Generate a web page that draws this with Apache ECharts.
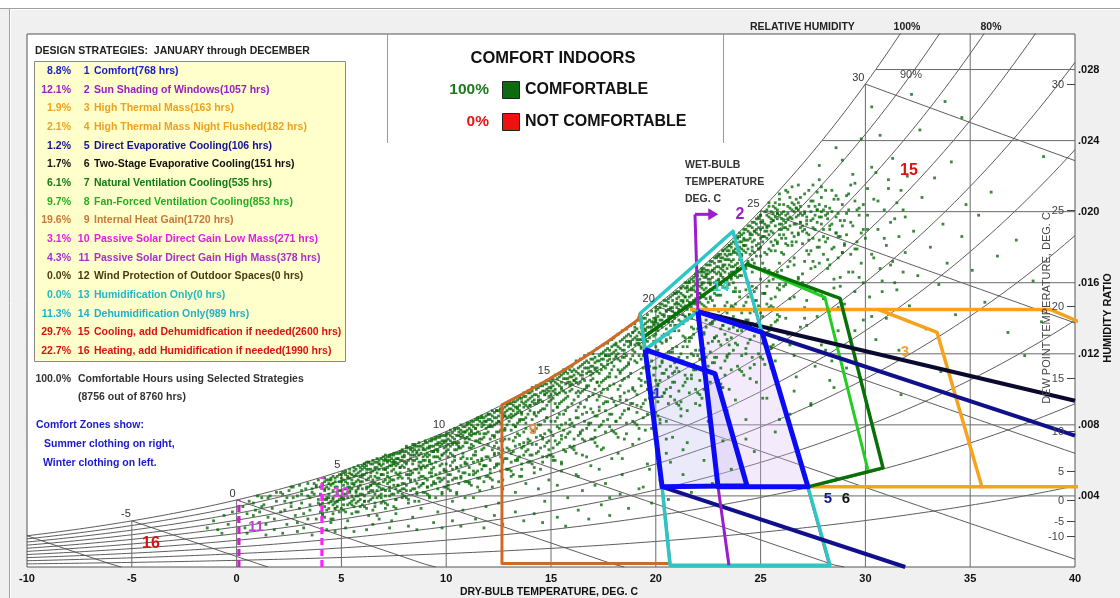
<!DOCTYPE html>
<html>
<head>
<meta charset="utf-8">
<script src="https://cdn.jsdelivr.net/npm/echarts@6/dist/echarts.min.js"></script>
<style>
  html, body { margin: 0; padding: 0; background: #f0f0f0; }
  #chart { width: 1120px; height: 598px; }
</style>
</head>
<body>
<div id="chart"></div>
<script>
// ---------- data ----------
const tempRange = [-10, 40];
const ratioRange = [0, 0.030];
const rhLevels = [10, 20, 30, 40, 50, 60, 70, 80, 90, 100];
const wetBulbTemps = [-10, -5, 0, 5, 10, 15, 20, 25, 30];
const wetBulbLabels = [-5, 0, 5, 10, 15, 20, 25, 30];
const dewPointTemps = [-10, -5, 0, 5, 10, 15, 20, 25, 30];
const gridTemps = [-5, 0, 5, 10, 15, 20, 25, 30, 35];
const gridRatios = [0.004, 0.008, 0.012, 0.016, 0.020, 0.024, 0.028];

const totalHours = 8760;
const comfortableHours = 8756;
const strategyNames = [
  'Comfort', 'Sun Shading of Windows', 'High Thermal Mass', 'High Thermal Mass Night Flushed',
  'Direct Evaporative Cooling', 'Two-Stage Evaporative Cooling', 'Natural Ventilation Cooling',
  'Fan-Forced Ventilation Cooling', 'Internal Heat Gain', 'Passive Solar Direct Gain Low Mass',
  'Passive Solar Direct Gain High Mass', 'Wind Protection of Outdoor Spaces', 'Humidification Only',
  'Dehumidification Only', 'Cooling, add Dehumidfication if needed', 'Heating, add Humidification if needed'
];
const strategyHours = [768, 1057, 163, 182, 106, 151, 535, 853, 1720, 271, 378, 0, 0, 989, 2600, 1990];
const strategyColors = [
  '#1a1acc', '#9922bb', '#f0a020', '#f0a020', '#14148c', '#111111', '#137a13', '#22b022',
  '#c87838', '#e020e0', '#a830c8', '#4a3a10', '#22b8c0', '#22b0c8', '#dd1111', '#dd1111'
];

// design strategy zone outlines: [dry-bulb °C, humidity ratio]
const comfortWinter = [[19.49, 0.01224], [22.82, 0.01089], [24.35, 0.00457], [20.30, 0.00451]];
const comfortSummer = [[22.01, 0.01438], [25.07, 0.01320], [27.26, 0.00451], [22.97, 0.00451]];
const sunShadingEdge = [[23.49, 0.0001], [22.97, 0.00451], [22.01, 0.01438], [21.87, 0.01985]];
const sunShadingArrow = [[21.87, 0.01985], [22.98, 0.01985]];
const thermalMass = [[21.63, 0.0145], [30.60, 0.0145], [33.42, 0.0132], [35.56, 0.00451], [27.26, 0.00451]];
const nightFlushTop = [[30.60, 0.0145], [38.81, 0.0145], [40.6, 0.0136]];
const nightFlushBottom = [[35.56, 0.00451], [40.5, 0.00451]];
const evapDirectTop = [[22.01, 0.01438], [40, 0.00739]];
const evapLower = [[20.30, 0.00451], [31.9, 0.0]];
const evapTwoStageTop = [[22.01, 0.01438], [40, 0.00936]];
const naturalVent = [[19.39, 0.01292], [24.35, 0.01703], [28.79, 0.01512], [30.84, 0.00558], [27.26, 0.00451]];
const fanVent = [[24.35, 0.01703], [28.07, 0.01517], [30.12, 0.00547]];
const heatGainLeft = 12.66, heatGainTopRight = 19.25;
const heatGainRight = [[19.25, 0.01427], [19.49, 0.01224], [20.30, 0.00451], [20.68, 0.0002]];
const solarLowMassTemp = 4.07;
const solarHighMassTemp = 0.11;
const dehumidOnly = [[19.25, 0.01427], [23.68, 0.0189], [25.07, 0.0132], [22.01, 0.01438], [19.49, 0.01224], [19.25, 0.01427]];
const humidOnly = [[20.30, 0.00451], [20.68, 0.0001], [28.31, 0.0001], [27.26, 0.00451]];
const coolingEdge = [[23.64, 0.0189], [25.02, 0.0132], [27.2, 0.00451], [28.24, 0.0001]];

// hourly weather records: [dry-bulb °C, humidity ratio g/kg]
const hourlyPoints = [
[-1.4,2.2],[-1.1,2.6],[-0.9,2.1],[-0.6,2.9],[-0.4,2.4],[-0.2,3.1],[0.1,2.7],[0.3,3.4],[0.4,2.2],[0.6,3.7],[0.8,2.9],[0.9,3.2],[1.1,2.5],[1.2,3.9],[1.3,3.5],[1.5,2.8],[1.6,4.0],[1.7,3.3],[1.8,2.1],[1.9,3.7],[0.5,1.9],[1.4,1.8],[-0.7,1.9],[1.0,4.0],[1.9,4.2],
[2.1,3.1],[2.2,4.1],[2.3,3.7],[2.4,2.4],[2.5,4.3],[2.6,3.4],[2.7,4.5],[2.8,2.9],[2.9,4.0],[3.0,4.6],[3.1,3.6],[3.2,2.2],[3.3,4.4],[3.4,4.7],[3.5,3.9],[3.5,3.2],[3.6,4.2],[3.7,4.7],[3.8,2.7],[3.9,4.9],[4.0,4.1],[4.0,3.5],[4.1,4.6],[4.2,5.0],[4.3,3.8],[4.4,4.4],[4.5,2.5],[4.5,4.9],[4.6,5.1],[4.7,3.3],[4.8,4.5],[4.9,5.2],[4.9,4.0],[2.2,1.9],[2.9,2.0],[3.6,1.8],[4.3,2.1],[4.7,2.0],[2.6,4.5],[3.1,4.3],[3.4,4.0],[3.8,4.5],[4.2,4.3],[4.6,4.7],[4.4,4.9],[3.9,3.6],[2.4,3.9],[3.0,3.3],[4.1,3.0],[4.8,3.7],
[5.0,4.8],[5.1,5.3],[5.1,3.9],[5.2,4.4],[5.3,5.0],[5.3,2.6],[5.4,5.5],[5.4,4.2],[5.5,4.9],[5.5,3.5],[5.6,5.6],[5.6,4.6],[5.7,5.2],[5.7,3.1],[5.8,4.0],[5.8,5.7],[5.9,4.8],[5.9,5.4],[5.2,2.2],[5.6,2.0],
[6.0,5.1],[6.0,4.4],[6.1,5.8],[6.1,3.7],[6.2,5.5],[6.2,4.9],[6.3,2.9],[6.3,5.9],[6.4,4.3],[6.4,5.3],[6.5,6.0],[6.5,4.7],[6.6,5.6],[6.6,3.4],[6.7,5.0],[6.7,6.1],[6.8,4.5],[6.8,5.8],[6.9,5.2],[6.9,3.9],[6.5,2.4],[6.2,2.1],[6.8,2.7],
[7.0,6.2],[7.0,4.8],[7.1,5.5],[7.1,3.3],[7.2,6.0],[7.2,5.1],[7.3,4.3],[7.3,6.3],[7.4,5.7],[7.4,2.6],[7.5,6.4],[7.5,4.9],[7.6,5.3],[7.6,3.8],[7.7,6.1],[7.7,4.6],[7.8,6.5],[7.8,5.6],[7.9,5.0],[7.9,6.6],[7.3,2.2],[7.6,3.0],[7.9,4.1],[7.1,6.0],[7.5,5.9],
[8.0,6.3],[8.0,4.4],[8.1,5.8],[8.1,6.8],[8.2,5.2],[8.2,3.6],[8.3,6.6],[8.3,4.9],[8.4,6.0],[8.4,2.8],[8.5,6.9],[8.5,5.5],[8.6,4.2],[8.6,6.4],[8.7,5.9],[8.7,7.0],[8.8,5.1],[8.8,3.3],[8.9,6.7],[8.9,4.7],[8.2,2.3],[8.6,2.1],[8.9,5.7],[8.4,6.5],
[9.0,7.1],[9.0,5.6],[9.1,6.2],[9.1,4.5],[9.2,6.8],[9.2,3.9],[9.3,5.3],[9.3,7.2],[9.4,6.5],[9.4,4.8],[9.5,7.3],[9.5,5.9],[9.6,3.1],[9.6,6.9],[9.7,5.0],[9.7,7.4],[9.8,6.3],[9.8,4.2],[9.9,7.0],[9.9,5.5],[9.4,2.5],[9.8,2.2],[9.2,6.0],[9.6,6.6],
[10.0,7.5],[10.0,5.8],[10.1,6.6],[10.1,4.6],[10.2,7.7],[10.2,5.2],[10.3,7.0],[10.3,3.7],[10.4,6.2],[10.4,7.8],[10.5,5.6],[10.5,4.1],[10.6,7.4],[10.6,6.8],[10.7,5.0],[10.7,8.0],[10.8,6.4],[10.8,3.2],[10.9,7.6],[10.9,5.9],[10.3,2.6],[10.7,2.3],[10.5,6.9],
[11.0,8.1],[11.0,6.1],[11.1,7.2],[11.1,4.8],[11.2,6.7],[11.2,8.2],[11.3,5.4],[11.3,3.9],[11.4,7.8],[11.4,6.3],[11.5,8.4],[11.5,5.0],[11.6,7.0],[11.6,4.3],[11.7,8.5],[11.7,6.0],[11.8,7.5],[11.8,5.7],[11.9,8.2],[11.9,3.4],[11.4,2.7],[11.8,2.2],[11.2,7.6],
[12.0,8.6],[12.0,6.9],[12.1,5.3],[12.1,7.9],[12.2,8.8],[12.2,4.5],[12.3,6.4],[12.3,7.4],[12.4,8.8],[12.4,5.8],[12.5,8.2],[12.5,3.6],[12.6,7.1],[12.6,8.9],[12.7,6.0],[12.7,4.9],[12.8,8.5],[12.8,7.7],[12.9,9.2],[12.9,5.5],[12.3,2.9],[12.7,2.4],[12.5,6.7],
[13.0,9.3],[13.0,7.2],[13.1,8.4],[13.1,5.1],[13.2,6.5],[13.2,9.3],[13.3,7.9],[13.3,4.2],[13.4,8.9],[13.4,6.0],[13.5,9.6],[13.5,7.4],[13.6,5.5],[13.6,8.6],[13.7,9.8],[13.7,6.8],[13.8,4.7],[13.8,8.1],[13.9,9.9],[13.9,7.0],[13.3,3.1],[13.7,2.6],[13.5,8.3],
[14.0,9.1],[14.0,6.3],[14.1,10.1],[14.1,7.7],[14.2,5.3],[14.2,8.7],[14.3,10.2],[14.3,6.9],[14.4,4.4],[14.4,9.4],[14.5,8.0],[14.5,10.3],[14.6,5.9],[14.6,7.3],[14.7,9.7],[14.7,3.7],[14.8,10.5],[14.8,8.4],[14.9,6.6],[14.9,9.9],[14.2,3.0],[14.6,2.5],[14.9,4.9],
[15.0,10.6],[15.0,8.2],[15.1,6.0],[15.1,9.5],[15.2,10.8],[15.2,7.1],[15.3,4.6],[15.3,9.0],[15.4,10.9],[15.4,7.8],[15.5,5.4],[15.5,10.1],[15.6,8.6],[15.6,11.1],[15.7,6.5],[15.7,9.8],[15.8,3.9],[15.8,11.2],[15.9,8.0],[15.9,10.4],[15.3,2.8],[15.7,2.3],[15.5,7.4],
[16.0,11.3],[16.0,9.2],[16.1,6.8],[16.1,10.5],[16.2,8.4],[16.2,11.6],[16.3,5.1],[16.3,9.9],[16.4,11.7],[16.4,7.6],[16.5,10.8],[16.5,4.3],[16.6,9.0],[16.6,11.9],[16.7,6.2],[16.7,10.2],[16.8,12.0],[16.8,8.1],[16.9,5.7],[16.9,11.0],[16.3,3.2],[16.8,2.7],[16.5,7.2],
[17.0,12.0],[17.0,9.7],[17.1,7.3],[17.1,11.2],[17.2,10.4],[17.2,12.3],[17.3,5.5],[17.3,8.8],[17.4,11.7],[17.4,6.6],[17.5,12.5],[17.5,10.0],[17.6,4.7],[17.6,9.3],[17.7,12.6],[17.7,11.4],[17.8,7.9],[17.8,10.7],[17.9,12.8],[17.9,6.1],[17.4,3.5],[17.8,2.9],[17.2,8.5],[17.6,11.9],
[18.0,12.9],[18.0,10.3],[18.1,8.2],[18.1,11.9],[18.2,13.1],[18.2,6.4],[18.3,11.0],[18.3,9.4],[18.4,13.3],[18.4,5.2],[18.5,12.2],[18.5,10.6],[18.6,7.5],[18.6,13.4],[18.7,11.5],[18.7,8.9],[18.8,13.6],[18.8,12.6],[18.9,6.9],[18.9,10.0],[18.3,4.1],[18.7,3.3],[18.5,11.8],[18.1,12.5],[18.9,13.2],
[19.0,13.7],[19.0,11.6],[19.1,9.1],[19.1,12.8],[19.2,13.9],[19.2,7.2],[19.3,10.5],[19.3,12.3],[19.4,14.0],[19.4,8.4],[19.5,11.9],[19.5,13.4],[19.6,5.8],[19.6,14.2],[19.7,10.0],[19.7,12.9],[19.8,14.4],[19.8,7.8],[19.9,11.2],[19.9,13.7],[19.4,4.5],[19.8,3.6],[19.2,12.6],[19.6,13.1],[19.9,9.5],
[20.0,14.6],[20.0,12.4],[20.1,13.5],[20.1,10.2],[20.2,14.8],[20.2,8.1],[20.3,13.0],[20.3,11.5],[20.4,15.0],[20.4,14.1],[20.5,12.7],[20.5,6.4],[20.6,15.1],[20.6,13.8],[20.7,9.6],[20.7,14.5],[20.8,15.3],[20.8,12.1],[20.9,13.3],[20.9,15.4],[20.2,4.9],[20.6,3.8],[20.8,7.3],[20.4,10.9],[20.0,13.9],[20.5,14.4],[20.9,11.0],
[21.0,15.5],[21.0,13.6],[21.1,14.5],[21.1,11.8],[21.2,15.7],[21.2,9.3],[21.3,14.9],[21.3,13.0],[21.4,16.0],[21.4,15.2],[21.5,12.4],[21.5,7.0],[21.6,16.1],[21.6,14.2],[21.7,15.6],[21.7,10.6],[21.8,16.3],[21.8,13.4],[21.9,15.0],[21.9,16.5],[21.3,5.2],[21.7,4.2],[21.2,8.5],[21.6,12.9],[21.0,14.8],[21.4,13.9],[21.8,11.4],[21.5,15.8],
[22.0,16.6],[22.0,14.0],[22.1,15.4],[22.1,12.2],[22.2,16.8],[22.2,15.9],[22.3,13.1],[22.3,10.0],[22.4,17.0],[22.4,14.6],[22.5,16.2],[22.5,8.2],[22.6,17.2],[22.6,15.1],[22.7,13.8],[22.7,16.7],[22.8,17.4],[22.8,11.5],[22.9,15.7],[22.9,17.5],[22.3,6.0],[22.7,4.7],[22.1,9.1],[22.5,14.3],[22.0,15.8],[22.4,16.4],[22.8,12.9],[22.6,16.0],[22.2,16.6],
[23.0,17.6],[23.0,15.3],[23.1,16.5],[23.1,13.4],[23.2,17.8],[23.2,16.9],[23.3,14.7],[23.3,10.8],[23.4,18.0],[23.4,15.8],[23.5,17.3],[23.5,12.5],[23.6,18.2],[23.6,16.3],[23.7,14.1],[23.7,17.7],[23.8,18.5],[23.8,9.4],[23.9,16.8],[23.9,18.6],[23.2,7.1],[23.6,5.5],[23.4,11.9],[23.8,15.5],[23.0,16.1],[23.5,18.1],[23.9,13.3],[23.1,17.4],[23.7,16.9],
[24.0,18.8],[24.0,16.4],[24.1,17.6],[24.1,14.3],[24.2,19.0],[24.2,18.1],[24.3,15.6],[24.3,12.0],[24.4,19.2],[24.4,17.1],[24.5,18.5],[24.5,13.6],[24.6,19.4],[24.6,16.6],[24.7,15.0],[24.7,18.9],[24.8,19.6],[24.8,10.4],[24.9,17.9],[24.9,19.7],[24.3,8.3],[24.7,6.5],[24.5,11.2],[24.0,15.2],[24.4,16.0],[24.8,14.4],[24.2,18.4],[24.6,17.8],
[25.0,19.8],[25.0,17.5],[25.1,18.6],[25.1,15.4],[25.2,20.0],[25.2,16.8],[25.3,19.1],[25.3,13.2],[25.4,20.3],[25.4,17.9],[25.5,18.9],[25.5,14.7],[25.6,19.5],[25.6,16.2],[25.7,20.5],[25.7,11.6],[25.8,18.3],[25.8,19.9],[25.9,17.1],[25.9,15.9],[25.3,9.5],[25.7,7.6],[25.5,12.4],[25.1,19.4],[25.9,21.0],[25.4,16.5],[25.8,13.9],
[26.0,19.3],[26.0,17.7],[26.1,20.4],[26.1,15.8],[26.2,18.5],[26.2,14.0],[26.3,19.9],[26.3,16.9],[26.4,20.8],[26.4,12.5],[26.5,18.1],[26.5,19.6],[26.6,15.2],[26.6,17.4],[26.7,20.2],[26.7,10.7],[26.8,18.8],[26.8,16.3],[26.9,19.4],[26.9,13.5],[26.4,8.6],[26.8,21.5],[26.2,21.2],[26.6,11.9],
[27.0,18.9],[27.0,16.5],[27.1,20.0],[27.1,14.6],[27.2,17.8],[27.2,19.5],[27.3,12.9],[27.3,18.4],[27.4,20.6],[27.4,15.7],[27.5,17.2],[27.5,19.1],[27.6,11.3],[27.6,16.9],[27.7,20.1],[27.7,14.1],[27.8,18.0],[27.8,21.8],[27.9,15.3],[27.9,19.7],[27.4,9.2],[27.8,22.6],[27.2,13.6],
[28.0,18.6],[28.0,15.1],[28.1,20.3],[28.1,12.2],[28.2,17.3],[28.3,19.2],[28.3,14.4],[28.4,21.2],[28.5,16.2],[28.5,10.1],[28.6,18.8],[28.7,13.3],[28.7,20.7],[28.8,15.8],[28.9,17.7],[28.9,22.9],[28.4,11.6],[28.6,23.6],[28.2,19.9],
[29.0,18.2],[29.0,14.8],[29.1,20.9],[29.2,16.6],[29.3,12.7],[29.3,19.4],[29.4,22.1],[29.5,15.5],[29.6,17.9],[29.7,11.4],[29.7,20.2],[29.8,24.1],[29.9,16.0],[29.9,13.9],[29.5,21.6],
[30.1,19.0],[30.2,15.2],[30.3,22.5],[30.4,17.4],[30.5,12.8],[30.6,20.6],[30.7,24.3],[30.8,16.1],[30.9,18.5],[31.0,14.0],[31.1,21.3],[31.2,17.0],[31.3,23.0],[31.4,19.6],[31.5,15.6],[31.6,12.2],[31.8,20.1],[31.9,17.7],[32.0,22.0],[32.1,14.7],[32.3,18.9],[32.5,16.4],[32.6,24.6],[32.7,20.8],[32.9,13.4],[33.1,18.0],[33.3,21.9],[33.5,15.9],[33.7,19.3],[33.9,17.1],[34.1,22.8],[34.3,14.2],[34.6,18.6],[34.8,20.4],[35.1,16.7],[35.4,19.8],[35.7,14.9],[36.0,21.1],[36.3,17.5],[36.8,13.2],[37.2,18.4],[37.6,11.9],[38.0,16.1],[38.4,13.8],[31.7,9.7],[33.6,11.0],[30.3,25.9],[32.2,26.6],[34.6,25.3],[38.5,23.1],[33.8,26.2]
];

// further hourly records, flat pairs in tenths: dry-bulb °C×10, humidity ratio g/kg×10
const hourlyPointsTenths = [
5,30, 12,34, 18,27, 23,32, 27,39, 32,30, 36,44, 39,38, 8,36, 15,39, 21,42, 26,36, 31,41, 35,35, 38,46, 14,24, 29,25, 34,27, 11,31, 37,41,
41,47, 43,49, 45,46, 47,50, 49,48, 42,44, 44,41, 46,43, 48,51, 40,45, 43,45, 45,50, 47,45, 49,43, 41,39, 46,38, 48,42, 44,47, 42,48, 47,48,
50,50, 51,46, 52,52, 53,47, 54,53, 55,44, 56,51, 57,55, 58,49, 59,56, 50,43, 52,48, 54,50, 56,47, 58,53, 51,41, 53,45, 55,52, 57,48, 59,51, 50,52, 52,54, 54,45, 56,54, 58,45, 51,49, 53,51, 55,47, 57,42, 59,46,
60,55, 61,52, 62,57, 63,50, 64,58, 65,54, 66,59, 67,56, 68,60, 69,57, 60,48, 61,56, 62,45, 63,55, 64,51, 65,58, 66,47, 67,53, 68,55, 69,61, 60,52, 62,53, 64,46, 66,55, 68,50, 61,58, 63,59, 65,49, 67,59, 69,52, 60,57, 62,59, 64,55, 66,51, 68,58,
70,58, 71,61, 72,56, 73,62, 74,59, 75,63, 76,57, 77,64, 78,60, 79,62, 70,52, 71,55, 72,62, 73,50, 74,63, 75,55, 76,61, 77,58, 78,64, 79,57, 70,60, 71,49, 72,59, 73,57, 74,54, 75,60, 76,64, 77,52, 78,56, 79,65, 70,55, 72,53, 74,61, 76,59, 78,53, 71,63, 73,60, 75,58, 77,61, 79,60,
80,62, 81,65, 82,60, 83,67, 84,63, 85,66, 86,61, 87,68, 88,64, 89,69, 80,56, 81,59, 82,64, 83,54, 84,67, 85,60, 86,65, 87,57, 88,68, 89,62, 80,65, 81,52, 82,67, 83,61, 84,58, 85,68, 86,55, 87,63, 88,59, 89,66, 80,59, 82,55, 84,69, 86,68, 88,56, 81,67, 83,63, 85,63, 87,66, 89,60,
90,66, 91,70, 92,63, 93,71, 94,68, 95,72, 96,65, 97,73, 98,69, 99,74, 90,60, 91,64, 92,71, 93,58, 94,72, 95,66, 96,70, 97,61, 98,74, 99,67, 90,70, 91,57, 92,67, 93,65, 94,62, 95,69, 96,73, 97,68, 98,63, 99,71, 90,63, 92,59, 94,65, 96,62, 98,71, 91,67, 93,68, 95,62, 97,70, 99,64,
100,71, 101,75, 102,68, 103,76, 104,72, 105,78, 106,70, 107,77, 108,74, 109,79, 100,65, 101,69, 102,74, 103,63, 104,77, 105,70, 106,76, 107,67, 108,79, 109,72, 100,74, 101,62, 102,71, 103,69, 104,66, 105,74, 106,78, 107,73, 108,68, 109,76, 100,68, 102,64, 104,70, 106,67, 108,76, 101,72, 103,73, 105,66, 107,75, 109,70,
110,77, 111,81, 112,74, 113,82, 114,78, 115,83, 116,75, 117,84, 118,80, 119,85, 110,70, 111,75, 112,80, 113,68, 114,83, 115,76, 116,82, 117,72, 118,84, 119,78, 110,80, 111,67, 112,77, 113,75, 114,71, 115,80, 116,84, 117,79, 118,73, 119,82, 110,73, 112,69, 114,75, 116,72, 118,82, 111,78, 113,79, 115,71, 117,81, 119,75,
120,83, 121,86, 122,79, 123,87, 124,84, 125,88, 126,81, 127,89, 128,85, 129,91, 120,76, 121,80, 122,85, 123,73, 124,88, 125,82, 126,87, 127,77, 128,90, 129,84, 120,86, 121,72, 122,82, 123,80, 124,76, 125,85, 126,89, 127,84, 128,78, 129,88, 120,79, 122,74, 124,81, 126,77, 128,87, 121,83, 123,84, 125,76, 127,86, 129,80,
130,89, 131,92, 132,85, 133,93, 134,90, 135,95, 136,87, 137,96, 138,91, 139,98, 130,82, 131,86, 132,91, 133,79, 134,94, 135,88, 136,93, 137,83, 138,96, 139,90, 130,92, 131,77, 132,88, 133,86, 134,81, 135,91, 136,95, 137,90, 138,84, 139,94, 130,85, 132,80, 134,87, 136,83, 138,93, 131,89, 133,90, 135,82, 137,92, 139,86,
140,95, 141,99, 142,92, 143,100, 144,96, 145,102, 146,93, 147,103, 148,98, 149,105, 140,88, 141,93, 142,97, 143,85, 144,101, 145,94, 146,99, 147,89, 148,103, 149,96, 140,98, 141,83, 142,94, 143,92, 144,87, 145,98, 146,102, 147,97, 148,91, 149,101, 140,91, 142,86, 144,93, 146,89, 148,100, 141,96, 143,97, 145,88, 147,99, 149,93,
150,101, 151,105, 152,98, 153,106, 154,102, 155,108, 156,99, 157,110, 158,104, 159,111, 150,94, 151,99, 152,104, 153,90, 154,107, 155,100, 156,106, 157,95, 158,109, 159,102, 150,104, 151,88, 152,100, 153,97, 154,92, 155,104, 156,109, 157,103, 158,96, 159,107, 150,97, 152,92, 154,98, 156,94, 158,106, 151,102, 153,103, 155,93, 157,106, 159,99,
160,107, 161,111, 162,104, 163,112, 164,108, 165,114, 166,105, 167,116, 168,110, 169,117, 160,100, 161,105, 162,110, 163,96, 164,113, 165,106, 166,112, 167,101, 168,115, 169,108, 160,110, 161,94, 162,106, 163,103, 164,98, 165,110, 166,115, 167,109, 168,102, 169,113, 160,103, 162,98, 164,104, 166,100, 168,112, 161,108, 163,109, 165,99, 167,112, 169,105,
170,113, 171,118, 172,110, 173,119, 174,114, 175,121, 176,112, 177,123, 178,117, 179,124, 170,106, 171,111, 172,116, 173,102, 174,120, 175,113, 176,119, 177,107, 178,122, 179,115, 170,117, 171,100, 172,112, 173,109, 174,104, 175,117, 176,122, 177,116, 178,109, 179,120, 170,109, 172,104, 174,111, 176,106, 178,119, 171,115, 173,116, 175,105, 177,119, 179,111,
180,121, 181,126, 182,117, 183,127, 184,122, 185,129, 186,119, 187,131, 188,125, 189,132, 180,113, 181,118, 182,124, 183,109, 184,128, 185,120, 186,127, 187,114, 188,130, 189,122, 180,125, 181,107, 182,120, 183,116, 184,111, 185,125, 186,130, 187,124, 188,117, 189,128, 180,117, 182,111, 184,118, 186,113, 188,127, 181,122, 183,123, 185,112, 187,127, 189,119,
190,129, 191,134, 192,125, 193,135, 194,130, 195,137, 196,127, 197,139, 198,133, 199,140, 190,121, 191,126, 192,132, 193,117, 194,136, 195,128, 196,135, 197,122, 198,138, 199,130, 190,133, 191,115, 192,128, 193,124, 194,119, 195,133, 196,138, 197,132, 198,125, 199,136, 190,125, 192,119, 194,126, 196,121, 198,135, 191,130, 193,131, 195,120, 197,135, 199,127, 190,135, 193,128, 196,131, 199,138, 195,140,
200,140, 201,145, 202,136, 203,148, 204,142, 205,150, 206,138, 207,152, 208,146, 209,154, 200,131, 201,137, 202,143, 203,126, 204,147, 205,134, 206,145, 207,129, 208,150, 209,140, 200,144, 201,122, 202,139, 203,135, 204,118, 205,144, 206,149, 207,141, 208,133, 209,148, 200,134, 202,127, 204,137, 206,131, 208,144, 201,141, 203,142, 205,128, 207,146, 209,136, 200,112, 202,105, 204,98, 206,121, 208,109, 201,133, 203,139, 205,147, 207,136, 209,143, 200,138, 202,146, 204,131, 206,141, 208,138,
210,151, 211,155, 212,147, 213,158, 214,152, 215,160, 216,149, 217,162, 218,156, 219,164, 210,142, 211,148, 212,154, 213,137, 214,157, 215,145, 216,156, 217,140, 218,161, 219,151, 210,154, 211,133, 212,150, 213,146, 214,129, 215,155, 216,160, 217,153, 218,144, 219,159, 210,146, 212,138, 214,147, 216,142, 218,158, 211,152, 213,153, 215,139, 217,157, 219,148, 210,124, 212,116, 214,108, 216,127, 218,119, 211,144, 213,150, 215,157, 217,146, 219,155, 210,149, 212,157, 214,141, 216,152, 218,150, 211,139, 213,142, 215,150, 217,135, 219,143,
220,161, 221,166, 222,157, 223,168, 224,163, 225,170, 226,159, 227,172, 228,166, 229,174, 220,152, 221,158, 222,164, 223,147, 224,167, 225,155, 226,166, 227,150, 228,171, 229,161, 220,164, 221,143, 222,160, 223,156, 224,139, 225,165, 226,170, 227,163, 228,154, 229,169, 220,156, 222,148, 224,157, 226,152, 228,168, 221,162, 223,163, 225,149, 227,167, 229,158, 220,134, 222,126, 224,118, 226,137, 228,129, 221,154, 223,160, 225,167, 227,156, 229,165, 220,159, 222,167, 224,151, 226,162, 228,160, 221,149, 223,152, 225,160, 227,145, 229,153, 222,153, 224,165, 226,156, 228,147, 223,166,
230,172, 231,176, 232,167, 233,179, 234,173, 235,181, 236,169, 237,183, 238,177, 239,185, 230,162, 231,168, 232,174, 233,157, 234,178, 235,165, 236,176, 237,160, 238,182, 239,171, 230,175, 231,153, 232,170, 233,166, 234,149, 235,176, 236,180, 237,173, 238,164, 239,180, 230,166, 232,158, 234,168, 236,162, 238,179, 231,172, 233,173, 235,159, 237,178, 239,168, 230,144, 232,136, 234,128, 236,147, 238,139, 231,164, 233,170, 235,178, 237,166, 239,176, 230,169, 232,178, 234,161, 236,172, 238,170, 231,159, 233,162, 235,170, 237,155, 239,163, 232,163, 234,175, 236,166, 238,157, 233,176,
240,183, 241,187, 242,178, 243,190, 244,184, 245,192, 246,180, 247,194, 248,188, 249,196, 240,173, 241,179, 242,185, 243,168, 244,189, 245,176, 246,187, 247,171, 248,193, 249,182, 240,186, 241,164, 242,181, 243,177, 244,160, 245,187, 246,191, 247,184, 248,175, 249,191, 240,177, 242,169, 244,179, 246,173, 248,190, 241,183, 243,184, 245,170, 247,189, 249,179, 240,155, 242,147, 244,139, 246,158, 248,150, 241,175, 243,181, 245,188, 247,177, 249,187, 240,180, 242,188, 244,172, 246,183, 248,181,
250,190, 251,195, 252,186, 253,198, 254,192, 255,200, 256,188, 257,202, 258,196, 259,204, 250,180, 251,186, 252,193, 253,176, 254,197, 255,183, 256,195, 257,178, 258,201, 259,190, 250,194, 251,171, 252,189, 253,185, 254,167, 255,196, 256,199, 257,192, 258,182, 259,198, 250,185, 252,177, 254,187, 256,181, 258,199, 251,191, 253,192, 255,178, 257,197, 259,187, 250,162, 252,154, 254,146, 256,165, 258,157, 251,183, 253,189, 255,194, 257,184, 259,193, 250,198, 253,201, 256,203, 259,207, 254,205,
260,196, 261,200, 262,191, 263,203, 264,197, 265,205, 266,193, 267,207, 268,201, 269,208, 260,185, 261,191, 262,198, 263,181, 264,202, 265,188, 266,200, 267,183, 268,205, 269,194, 260,199, 261,176, 262,194, 263,190, 264,172, 265,201, 266,204, 267,197, 268,187, 269,203, 260,190, 262,182, 264,192, 266,186, 268,198, 261,195, 263,196, 265,183, 267,202, 269,191, 260,167, 262,159, 264,151, 266,170, 268,162, 261,187, 263,211, 265,214, 267,193, 269,199,
270,192, 271,199, 272,188, 273,203, 274,195, 275,206, 276,190, 277,201, 278,197, 279,208, 270,182, 271,190, 272,197, 273,176, 274,200, 275,185, 276,198, 277,180, 278,204, 279,193, 270,198, 271,172, 272,193, 273,187, 274,168, 275,196, 276,203, 277,194, 278,184, 279,200, 270,160, 272,150, 274,178, 276,155, 278,171, 271,210, 273,212, 275,215, 277,211, 279,214,
280,190, 281,198, 282,185, 283,202, 284,193, 285,207, 286,188, 287,199, 288,195, 289,204, 280,176, 281,183, 282,196, 283,170, 284,200, 285,180, 286,197, 287,174, 288,186, 289,192, 280,201, 282,168, 284,179, 286,209, 288,163, 281,212, 283,190, 285,157, 287,186, 289,177,
290,195, 291,187, 292,201, 293,176, 294,192, 295,206, 296,183, 297,198, 298,171, 299,190, 290,181, 292,210, 294,166, 296,201, 298,188, 291,199, 293,215, 295,179, 297,163, 299,204,
300,185, 301,198, 303,176, 304,207, 306,190, 307,168, 309,201, 310,181, 312,194, 313,172, 315,205, 316,186, 318,166, 319,197, 301,213, 305,222, 311,218, 314,160, 317,212, 308,155,
162,52, 171,46, 184,61, 197,55, 205,72, 213,66, 226,79, 234,88, 243,72, 251,95, 259,83, 266,99, 274,91, 283,105, 291,112, 178,39, 192,44, 207,59, 219,92, 231,101, 247,114, 255,123, 263,131, 271,140, 279,125, 287,146, 295,133, 303,141, 155,58, 148,62, 136,51, 127,44, 118,48, 109,39, 98,41, 87,37, 76,33, 67,29, 58,31, 46,27,
40,31, 41,36, 42,28, 43,39, 44,33, 45,37, 46,30, 47,40, 48,34, 49,38, 40,35, 41,29, 42,38, 43,32, 44,36, 45,27, 46,39, 47,33, 48,41, 49,31, 44,39, 46,35, 48,37, 42,34, 47,36,
50,33, 51,38, 52,31, 53,42, 54,36, 55,40, 56,34, 57,43, 58,37, 59,41, 50,39, 51,32, 52,41, 53,35, 54,43, 55,30, 56,38, 57,36, 58,44, 59,34, 53,39, 55,37, 57,40, 51,35, 59,38,
60,35, 61,40, 62,33, 63,45, 64,38, 65,43, 66,36, 67,46, 68,40, 69,44, 60,41, 61,34, 62,44, 63,37, 64,46, 65,32, 66,41, 67,39, 68,47, 69,36, 63,42, 65,39, 67,43, 61,37, 69,41,
70,37, 71,43, 72,35, 73,48, 74,41, 75,46, 76,38, 77,50, 78,43, 79,47, 70,44, 71,36, 72,47, 73,40, 74,49, 75,34, 76,44, 77,42, 78,51, 79,39, 73,45, 75,41, 77,46, 71,40, 79,44,
80,40, 81,46, 82,38, 83,52, 84,44, 85,49, 86,41, 87,53, 88,46, 89,51, 80,47, 81,39, 82,50, 83,43, 84,53, 85,37, 86,47, 87,45, 88,55, 89,42, 83,48, 85,44, 87,50, 81,43, 89,47,
90,42, 91,49, 92,40, 93,55, 94,47, 95,52, 96,44, 97,57, 98,49, 99,54, 90,50, 91,41, 92,53, 93,46, 94,56, 95,39, 96,50, 97,48, 98,58, 99,45, 93,51, 95,47, 97,53, 91,45, 99,50,
100,45, 101,52, 102,43, 103,59, 104,50, 105,56, 106,47, 107,61, 108,53, 109,58, 100,54, 101,44, 102,57, 103,49, 104,60, 105,42, 106,54, 107,51, 108,62, 109,48, 103,55, 105,50, 107,57, 101,48, 109,53,
110,48, 111,56, 112,46, 113,63, 114,53, 115,60, 116,50, 117,66, 118,57, 119,62, 110,58, 111,47, 112,61, 113,52, 114,65, 115,45, 116,58, 117,55, 118,67, 119,51, 113,59, 115,54, 117,61, 111,52, 119,57,
120,51, 121,60, 122,49, 123,68, 124,57, 125,64, 126,54, 127,71, 128,61, 129,67, 120,62, 121,50, 122,66, 123,56, 124,70, 125,48, 126,62, 127,59, 128,72, 129,55, 123,63, 125,58, 127,66, 121,55, 129,61,
130,55, 131,64, 132,52, 133,73, 134,61, 135,69, 136,58, 137,76, 138,65, 139,72, 130,66, 131,54, 132,71, 133,60, 134,75, 135,51, 136,67, 137,63, 138,78, 139,59, 133,68, 135,62, 137,70, 131,59, 139,66,
140,59, 141,69, 142,56, 143,78, 144,65, 145,74, 146,62, 147,82, 148,70, 149,77, 140,71, 141,58, 142,76, 143,64, 144,80, 145,55, 146,72, 147,68, 148,84, 149,63, 143,73, 145,67, 147,75, 141,63, 149,71,
150,63, 151,74, 152,60, 153,84, 154,70, 155,80, 156,66, 157,88, 158,75, 159,83, 150,76, 151,62, 152,82, 153,69, 154,86, 155,59, 156,77, 157,73, 158,90, 159,68, 153,79, 155,72, 157,81, 151,67, 159,76,
160,67, 161,79, 162,64, 163,90, 164,75, 165,86, 166,71, 167,94, 168,80, 169,89, 160,81, 161,66, 162,88, 163,74, 164,92, 165,63, 166,82, 167,78, 168,96, 169,72, 163,84, 165,77, 167,87, 161,72, 169,81,
170,72, 171,85, 172,68, 173,96, 174,80, 175,92, 176,76, 177,100, 178,86, 179,95, 170,87, 171,70, 172,94, 173,79, 174,98, 175,67, 176,88, 177,83, 178,102, 179,77, 173,90, 175,82, 177,93, 171,77, 179,86,
180,76, 181,91, 182,73, 183,102, 184,86, 185,98, 186,81, 187,107, 188,92, 189,101, 180,93, 181,75, 182,100, 183,84, 184,105, 185,72, 186,94, 187,89, 188,109, 189,82, 183,96, 185,88, 187,99, 181,82, 189,92,
190,81, 191,97, 192,78, 193,109, 194,92, 195,104, 196,86, 197,113, 198,98, 199,108, 190,99, 191,80, 192,106, 193,90, 194,112, 195,77, 196,100, 197,95, 198,116, 199,88, 193,102, 195,94, 197,106, 191,87, 199,98,
200,87, 201,103, 202,83, 203,116, 204,98, 205,111, 206,92, 207,121, 208,104, 209,115, 200,105, 201,85, 202,113, 203,96, 204,119, 205,82, 206,107, 207,101, 208,123, 209,94, 203,109, 205,100, 207,113, 201,93, 209,104,
210,92, 211,110, 212,89, 213,124, 214,104, 215,118, 216,98, 217,129, 218,111, 219,122, 210,112, 211,91, 212,120, 213,102, 214,127, 215,88, 216,114, 217,108, 218,131, 219,100, 213,116, 215,106, 217,120, 211,99, 219,111,
220,98, 221,117, 222,95, 223,132, 224,111, 225,126, 226,104, 227,137, 228,118, 229,130, 220,119, 221,97, 222,128, 223,109, 224,135, 225,94, 226,121, 227,115, 228,139, 229,106, 223,123, 225,113, 227,127, 221,105, 229,118,
230,105, 231,125, 232,101, 233,140, 234,118, 235,134, 236,111, 237,146, 238,126, 239,138, 230,127, 231,103, 232,136, 233,116, 234,143, 235,100, 236,129, 237,122, 238,148, 239,113, 233,131, 235,120, 237,135, 231,112, 239,125,
240,111, 241,133, 242,108, 243,149, 244,126, 245,143, 246,118, 247,155, 248,134, 249,147, 240,135, 241,110, 242,145, 243,123, 244,152, 245,106, 246,137, 247,130, 248,157, 249,120, 243,139, 245,128, 247,144, 241,119, 249,133,
250,118, 251,141, 252,114, 253,158, 254,133, 255,151, 256,125, 257,164, 258,142, 259,156, 250,143, 251,117, 252,154, 253,131, 254,161, 255,112, 256,146, 257,138, 258,166, 259,128, 253,148, 255,136, 257,152, 251,126, 259,141
];

// ---------- psychrometric relations (sea-level pressure) ----------
const P_ATM = 101.325;
function satPressure(t) { return 0.61078 * Math.exp(17.27 * t / (t + 237.3)); }
function ratioAt(t, rh) { const pw = satPressure(t) * rh / 100; return 0.622 * pw / (P_ATM - pw); }
function dewPointOf(w) { const pw = w * P_ATM / (0.622 + w); const a = Math.log(pw / 0.61078); return 237.3 * a / (17.27 - a); }
function wetBulbRatio(t, twb) {
  const ws = ratioAt(twb, 100);
  return ((2501 - 2.326 * twb) * ws - 1.006 * (t - twb)) / (2501 + 1.86 * t - 4.186 * twb);
}

// ---------- styles ----------
const FONT = '"Liberation Sans", Arial, Helvetica, sans-serif';
const GRID_LINE = '#6a6a6a';
const PSY_LINE = '#4a4a4a';

function pathSeries(pts, color, width, z, dash) {
  return {
    type: 'line', data: pts, showSymbol: false, symbol: 'none', silent: true, z: z,
    animation: false, clip: true,
    lineStyle: { color: color, width: width, type: dash || 'solid', join: 'round', cap: 'butt' }
  };
}
function fillSeries(pts, fill, z) {
  return {
    type: 'custom', coordinateSystem: 'cartesian2d', silent: true, z: z, clip: true,
    data: [pts[0]],
    renderItem: function (params, api) {
      return { type: 'polygon', shape: { points: pts.map(p => api.coord(p)) }, style: { fill: fill } };
    }
  };
}

const series = [];

// psychrometric grid
rhLevels.forEach(rh => {
  const pts = [];
  for (let t = tempRange[0]; t <= tempRange[1] + 1e-9; t += 0.25) pts.push([t, ratioAt(t, rh)]);
  series.push(pathSeries(pts, PSY_LINE, 0.9, 1));
});
wetBulbTemps.forEach(twb => {
  const pts = [];
  for (let t = twb; t <= tempRange[1] + 1e-9; t += 0.5) {
    const w = wetBulbRatio(t, twb);
    if (w < 0) { pts.push([t, 0]); break; }
    pts.push([t, w]);
  }
  series.push(pathSeries(pts, PSY_LINE, 0.9, 1));
});
gridTemps.forEach(t => {
  series.push(pathSeries([[t, 0], [t, Math.min(ratioAt(t, 100), 0.031)]], GRID_LINE, 1, 1));
});
gridRatios.forEach(w => {
  series.push(pathSeries([[dewPointOf(w), w], [tempRange[1], w]], GRID_LINE, 1, 1));
});

// comfort zone fills
series.push(fillSeries(comfortWinter, 'rgba(185,185,240,0.30)', 2));
series.push(fillSeries(comfortSummer, 'rgba(215,190,245,0.30)', 2));

// hourly climate points
const climatePoints = hourlyPoints.map(p => [p[0], p[1] / 1000]);
for (let i = 0; i + 1 < hourlyPointsTenths.length; i += 2) {
  climatePoints.push([hourlyPointsTenths[i] / 10, hourlyPointsTenths[i + 1] / 10000]);
}
series.push({
  type: 'scatter', data: climatePoints, symbol: 'rect', symbolSize: 2.8, large: false,
  silent: true, z: 3, animation: false, itemStyle: { color: '#0b6a0b' }
});

// strategy zones
const heatGainPath = [[20.68, 0.0002], [heatGainLeft, 0.0002]];
for (let t = heatGainLeft; t < heatGainTopRight; t += 0.25) heatGainPath.push([t, ratioAt(t, 100)]);
heatGainPath.push(...heatGainRight);
series.push(pathSeries(heatGainPath, '#cc6a28', 3, 4));
series.push(pathSeries([[solarHighMassTemp, 0], [solarHighMassTemp, ratioAt(solarHighMassTemp, 100)]], '#cc22cc', 3.2, 4, [7, 4]));
series.push(pathSeries([[solarLowMassTemp, 0], [solarLowMassTemp, ratioAt(solarLowMassTemp, 100)]], '#ff22ff', 3.2, 4, [7, 4]));
series.push(pathSeries(thermalMass, '#f7a21c', 3.5, 4));
series.push(pathSeries(nightFlushTop, '#f7a21c', 3.5, 4));
series.push(pathSeries(nightFlushBottom, '#f7a21c', 3.5, 4));
series.push(pathSeries(coolingEdge, '#dd3333', 1, 4));
series.push(pathSeries(humidOnly, '#2cc6c6', 3.5, 5));
series.push(pathSeries(fanVent, '#22cc22', 3, 5));
series.push(pathSeries(naturalVent, '#077007', 3.5, 5));
series.push(pathSeries(evapTwoStageTop, '#0a0a30', 4, 5));
series.push(pathSeries(evapDirectTop, '#10108c', 4, 5));
series.push(pathSeries(evapLower, '#10108c', 4, 5));
series.push(pathSeries(sunShadingEdge, '#9a1fcc', 3, 5));
series.push(pathSeries(dehumidOnly, '#2cc6c6', 3.5, 6));
series.push(pathSeries(comfortWinter.concat([comfortWinter[0]]), '#0a0af5', 5, 7));
series.push(pathSeries(comfortSummer.concat([comfortSummer[0]]), '#0a0af5', 5, 7));
series.push({
  type: 'custom', coordinateSystem: 'cartesian2d', silent: true, z: 7, clip: false,
  data: [sunShadingArrow[0]],
  renderItem: function (params, api) {
    const a = api.coord(sunShadingArrow[0]), b = api.coord(sunShadingArrow[1]);
    return {
      type: 'group', children: [
        { type: 'line', shape: { x1: a[0], y1: a[1], x2: b[0] - 6, y2: b[1] }, style: { stroke: '#9a1fcc', lineWidth: 3 } },
        { type: 'polygon', shape: { points: [[b[0], b[1]], [b[0] - 10, b[1] - 6], [b[0] - 10, b[1] + 6]] }, style: { fill: '#9a1fcc' } }
      ]
    };
  }
});

const chart = echarts.init(document.getElementById('chart'), null, { renderer: 'canvas' });
chart.setOption({
  animation: false,
  backgroundColor: '#f0f0f0',
  textStyle: { fontFamily: FONT },
  grid: { left: 27, right: 45, top: 34, bottom: 31, show: true, backgroundColor: '#ffffff', borderColor: '#555', borderWidth: 1 },
  xAxis: {
    type: 'value', min: tempRange[0], max: tempRange[1], interval: 5,
    axisLine: { show: false }, axisTick: { show: false }, splitLine: { show: false },
    axisLabel: { margin: 6, color: '#111', fontWeight: 'bold', fontSize: 11, fontFamily: FONT, showMinLabel: true, showMaxLabel: true }
  },
  yAxis: {
    type: 'value', position: 'right', min: ratioRange[0], max: ratioRange[1], interval: 0.004,
    axisLine: { show: false }, axisTick: { show: false }, splitLine: { show: false },
    axisLabel: {
      margin: 3, color: '#111', fontWeight: 'bold', fontSize: 11, fontFamily: FONT,
      formatter: v => (v > 0.001 && v < 0.029) ? '.' + String(Math.round(v * 1000)).padStart(3, '0') : ''
    }
  },
  series: series
});

// ---------- text and frame ----------
function txt(x, y, s, o) {
  o = o || {};
  return {
    type: 'text', x: x, y: y, rotation: o.rot || 0, silent: true, z: 100,
    style: {
      text: s, fill: o.color || '#222',
      font: (o.weight || 'bold') + ' ' + (o.size || 11) + 'px ' + FONT,
      align: o.align || 'left', verticalAlign: 'middle'
    }
  };
}
function hline(x1, x2, y, c) { return { type: 'line', silent: true, z: 99, shape: { x1: x1, y1: y, x2: x2, y2: y }, style: { stroke: c, lineWidth: 1 } }; }
function vline(x, y1, y2, c) { return { type: 'line', silent: true, z: 99, shape: { x1: x, y1: y1, x2: x, y2: y2 }, style: { stroke: c, lineWidth: 1 } }; }

const g = [];
// window frame
g.push({ type: 'rect', silent: true, z: 98, shape: { x: 0, y: 0, width: 1120, height: 8 }, style: { fill: '#ffffff' } });
g.push(hline(0, 1120, 8.5, '#a0a0a0'));
g.push(hline(10, 1120, 9.5, '#ffffff'));
g.push(vline(9.5, 9, 598, '#a0a0a0'));
g.push(vline(10.5, 10, 598, '#ffffff'));
// panel separators
g.push(vline(387.5, 34, 143, '#999'));
g.push(vline(723.5, 34, 143, '#999'));

// strategy list
g.push(txt(35, 51, 'DESIGN STRATEGIES:  JANUARY through DECEMBER', { size: 10.5, color: '#222' }));
g.push({ type: 'rect', silent: true, z: 99, shape: { x: 34.5, y: 61.5, width: 311, height: 300 }, style: { fill: '#ffffcc', stroke: '#8a8a8a', lineWidth: 1 } });
strategyNames.forEach((name, i) => {
  const y = 71 + i * 18.68;
  const c = strategyColors[i];
  const pct = (strategyHours[i] / totalHours * 100).toFixed(1) + '%';
  g.push(txt(71, y, pct, { align: 'right', color: c, size: 10.5 }));
  g.push(txt(89.5, y, String(i + 1), { align: 'right', color: c, size: 10.5 }));
  g.push(txt(94, y, name + '(' + strategyHours[i] + ' hrs)', { color: c, size: 10.5 }));
});
g.push(txt(71, 379, (comfortableHours / totalHours * 100 > 99.95 ? '100.0' : (comfortableHours / totalHours * 100).toFixed(1)) + '%', { align: 'right', color: '#333', size: 10.5 }));
g.push(txt(78, 379, 'Comfortable Hours using Selected Strategies', { color: '#333', size: 10.5 }));
g.push(txt(78, 397, '(' + comfortableHours + ' out of ' + totalHours + ' hrs)', { color: '#333', size: 10.5 }));
g.push(txt(36, 425, 'Comfort Zones show:', { color: '#1a1acc', size: 10.5 }));
g.push(txt(44, 444, 'Summer clothing on right,', { color: '#1a1acc', size: 10.5 }));
g.push(txt(43, 463, 'Winter clothing on left.', { color: '#1a1acc', size: 10.5 }));

// comfort indoors key
g.push(txt(553, 58, 'COMFORT INDOORS', { align: 'center', size: 16.5, color: '#111' }));
g.push(txt(489, 90, '100%', { align: 'right', size: 15.5, color: '#1e7a1e' }));
g.push({ type: 'rect', silent: true, z: 99, shape: { x: 502.5, y: 81.5, width: 17, height: 17 }, style: { fill: '#0e6a0e', stroke: '#222', lineWidth: 1 } });
g.push(txt(525, 90, 'COMFORTABLE', { size: 16, color: '#111' }));
g.push(txt(489, 122, '0%', { align: 'right', size: 15.5, color: '#e01818' }));
g.push({ type: 'rect', silent: true, z: 99, shape: { x: 502.5, y: 113.5, width: 17, height: 17 }, style: { fill: '#ee1111', stroke: '#222', lineWidth: 1 } });
g.push(txt(525, 122, 'NOT COMFORTABLE', { size: 16, color: '#111' }));

// chart annotations
g.push(txt(750, 27, 'RELATIVE HUMIDITY', { size: 10.5, color: '#222' }));
g.push(txt(907, 27, '100%', { align: 'center', size: 10.5, color: '#222' }));
g.push(txt(991, 27, '80%', { align: 'center', size: 10.5, color: '#222' }));
g.push(txt(911, 75, '90%', { align: 'center', size: 11, weight: 'normal', color: '#444' }));
g.push(txt(685, 165, 'WET-BULB', { size: 10.5, color: '#333' }));
g.push(txt(685, 182, 'TEMPERATURE', { size: 10.5, color: '#333' }));
g.push(txt(685, 199, 'DEG. C', { size: 10.5, color: '#333' }));
g.push(txt(549, 592, 'DRY-BULB TEMPERATURE, DEG. C', { align: 'center', size: 10.5, color: '#111' }));
g.push(txt(1108, 318, 'HUMIDITY RATIO', { align: 'center', size: 11, color: '#111', rot: Math.PI / 2 }));
g.push(txt(1047, 308, 'DEW POINT TEMPERATURE, DEG. C', { align: 'center', size: 11, weight: 'normal', color: '#444', rot: Math.PI / 2 }));

// zone numbers
const zoneMarks = [
  ['15', 909, 171, '#dd1111', 16], ['16', 151, 544, '#dd1111', 16], ['2', 740, 215, '#9a1fcc', 16],
  ['14', 721, 287, '#3cc8c8', 15], ['3', 905, 352, '#f5a030', 15], ['1', 657, 394, '#2222dd', 15],
  ['9', 533, 430, '#e0904a', 15], ['10', 341, 493, '#e840e8', 15], ['11', 256, 527, '#c040d8', 15],
  ['5', 828, 499, '#14148c', 15], ['6', 846, 499, '#111111', 15]
];
zoneMarks.forEach(m => g.push(txt(m[1], m[2], m[0], { align: 'center', size: m[4], color: m[3] })));

// wet-bulb values along saturation curve
wetBulbLabels.forEach(t => {
  const p = chart.convertToPixel({ gridIndex: 0 }, [t, ratioAt(t, 100)]);
  g.push({
    type: 'text', x: p[0] - 1, y: p[1] - 1, silent: true, z: 100,
    style: { text: String(t), fill: '#333', font: 'normal 11px ' + FONT, align: 'right', verticalAlign: 'bottom' }
  });
});
// dew point scale on the right edge
dewPointTemps.forEach(t => {
  const p = chart.convertToPixel({ gridIndex: 0 }, [tempRange[1], ratioAt(t, 100)]);
  const y = Math.round(p[1]) + 0.5;
  g.push(hline(p[0] - 8, p[0], y, '#444'));
  g.push(txt(p[0] - 11, y, String(t), { align: 'right', weight: 'normal', size: 11, color: '#444' }));
});

chart.setOption({ graphic: { elements: g } });
</script>
</body>
</html>
